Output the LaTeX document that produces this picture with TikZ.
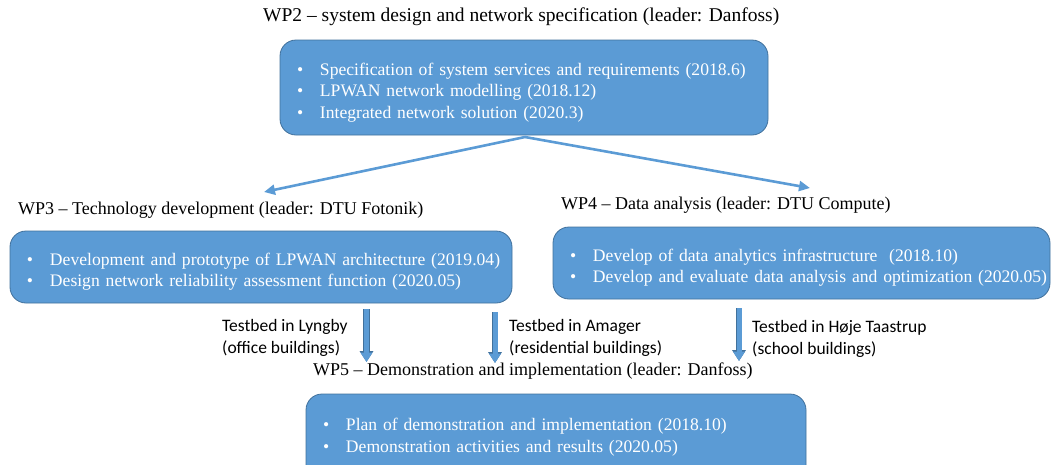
\documentclass[tikz,border=0pt]{standalone}
\usepackage{fontspec}
\setmainfont{Liberation Serif}
\newfontfamily\testfont{Carlito}
\usetikzlibrary{arrows.meta}

\definecolor{boxblue}{HTML}{5B9BD5}
\definecolor{boxedge}{HTML}{41719C}

\newcommand{\bitem}[1]{\mbox{\makebox[23pt][l]{\textbullet}#1}}

\tikzset{
  wpbox/.style={rectangle, rounded corners=16pt, fill=boxblue, draw=boxedge, line width=0.8pt,
    text=white, align=left, inner xsep=17pt, font=\fontsize{17.6}{21.5}\selectfont,
    execute at begin node={\rule{0pt}{22pt}}},
  wptitle/.style={anchor=west, inner sep=0pt, font=\fontsize{18}{21.5}\selectfont},
  testlabel/.style={anchor=west, inner sep=0pt, align=left, font=\testfont\fontsize{17.5}{22}\selectfont},
  splitarrow/.style={draw=boxblue, line width=2.6pt, -{Triangle[width=10pt,length=11pt]}},
  testarrow/.style={draw=boxblue, line width=5pt, -{Triangle[width=11.5pt,length=9.5pt]},
    preaction={draw=boxedge, line width=6.2pt, -{Triangle[width=13.1pt,length=10.9pt]}}}
}

\begin{document}
\begin{tikzpicture}[x=1pt, y=-1pt]
            \clip (0,0) rectangle (1052,464);

            \node (t2) at (263,17) [wptitle, font=\fontsize{19.5}{22}\selectfont] {WP2 -- system design and network specification (leader: Danfoss)};
            \node (wp2) at (524,87.5) [wpbox, minimum width=488pt, minimum height=95pt, text width=454pt]
              {\bitem{Specification of system services and requirements (2018.6)}\\
               \bitem{LPWAN network modelling (2018.12)}\\
               \bitem{Integrated network solution (2020.3)}};

            \node (t3) at (18,210) [wptitle] {WP3 -- Technology development (leader: DTU Fotonik)};
            \node (wp3) at (261,267) [wpbox, minimum width=502pt, minimum height=72pt, text width=468pt]
              {\bitem{Development and prototype of LPWAN architecture (2019.04)}\\
               \bitem{Design network reliability assessment function (2020.05)}};

            \node (t4) at (561,205) [wptitle] {WP4 -- Data analysis (leader: DTU Compute)};
            \node (wp4) at (801.5,263) [wpbox, minimum width=497pt, minimum height=72pt, text width=463pt]
              {\bitem{Develop of data analytics infrastructure~ (2018.10)}\\
               \bitem{Develop and evaluate data analysis and optimization (2020.05)}};

            % box runs past the lower edge
            \node (t5) at (313,371) [wptitle] {WP5 -- Demonstration and implementation (leader: Danfoss)};
            \node (wp5) at (556,444) [wpbox, minimum width=500pt, minimum height=100pt, text width=466pt]
              {\bitem{Plan of demonstration and implementation (2018.10)}\\
               \bitem{Demonstration activities and results (2020.05)}\\[5.5pt]\mbox{}};

            % split of WP2 into WP3 and WP4
            \coordinate (c2) at (525,137);
            \coordinate (c3) at (264,192);
            \coordinate (c4) at (810,188);
            \draw[splitarrow] (c2) -- (c3);
            \draw[splitarrow] (c2) -- (c4);

            % testbeds feeding WP5
            \node (l1) at (222,338) [testlabel] {Testbed in Lyngby\\(office buildings)};
            \node (l2) at (509,337.5) [testlabel] {Testbed in Amager\\(residential buildings)};
            \node (l3) at (752,338.5) [testlabel] {Testbed in Høje Taastrup\\(school buildings)};

            \foreach \i/\x/\ya/\yb in {1/366.5/309/362, 2/495/312/363, 3/739/308/361} {
              \coordinate (s\i) at (\x,\ya);
              \coordinate (e\i) at (\x,\yb);
              \draw[testarrow] (s\i) -- (e\i);
            }
        \end{tikzpicture}
\end{document}
